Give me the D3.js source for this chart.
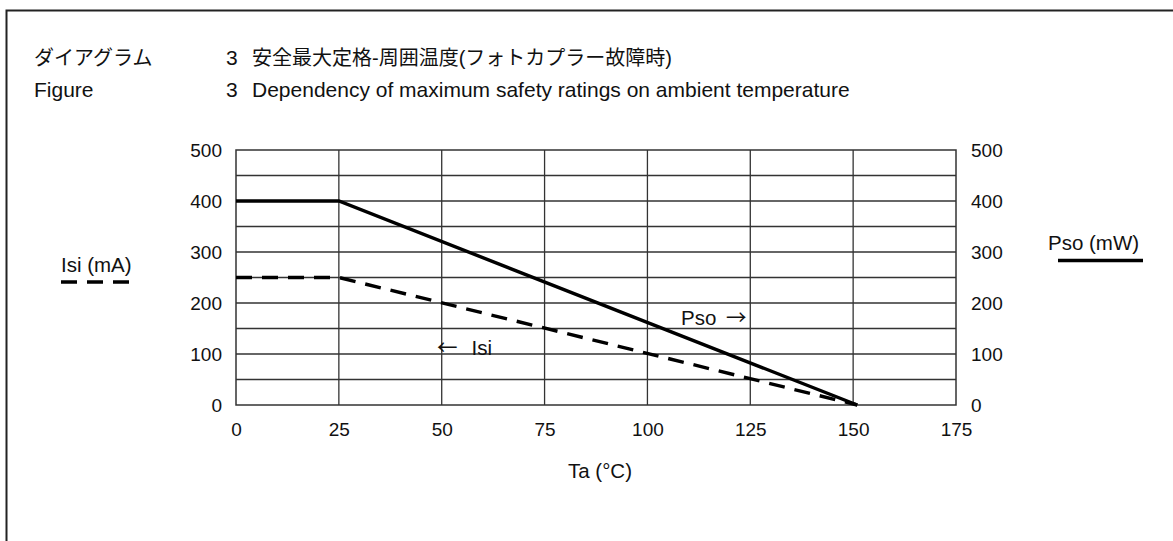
<!DOCTYPE html>
<html><head><meta charset="utf-8">
<script src="https://cdn.jsdelivr.net/npm/d3@7"></script>
<style>
body{margin:0;background:#fff;}
svg{display:block;font-family:"Liberation Sans","Noto Sans CJK JP",Arial,sans-serif;}
</style></head><body>
<svg id="c" width="1173" height="541"></svg>
<script>
const xTicks = [0,25,50,75,100,125,150,175];
const yTicks = [0,100,200,300,400,500];
const yGrid = [50,100,150,200,250,300,350,400,450];
const psoData = [[0,400],[25,400],[151,0]];
const isiData = [[0,250],[25,250],[151,0]];
const titleJa = ["ダイアグラム","3","安全最大定格-周囲温度(フォトカプラー故障時)"];
const titleEn = ["Figure","3","Dependency of maximum safety ratings on ambient temperature"];

const svg = d3.select("#c");
// outer frame
svg.append("path").attr("d","M6.5,541 V10.5 H1173").attr("fill","none").attr("stroke","#222").attr("stroke-width",2);

const x = d3.scaleLinear().domain([0,175]).range([236,956]);
const y = d3.scaleLinear().domain([0,500]).range([405,150]);

// title
const t = svg.append("g").attr("fill","#111");
[[titleJa,65,20],[titleEn,97,21]].forEach(([arr,yy,fs])=>{
  t.append("text").attr("x",34).attr("y",yy).attr("font-size",fs).text(arr[0]);
  t.append("text").attr("x",226).attr("y",yy).attr("font-size",21).text(arr[1]);
  t.append("text").attr("x",252).attr("y",yy).attr("font-size",fs).text(arr[2]);
});

// grid
const g = svg.append("g");
g.selectAll(".vg").data(xTicks.slice(1,-1)).join("line")
 .attr("x1",d=>x(d)).attr("x2",d=>x(d)).attr("y1",y(0)).attr("y2",y(500))
 .attr("stroke","#333").attr("stroke-width",1.3);
g.selectAll(".hg").data(yGrid).join("line")
 .attr("x1",x(0)).attr("x2",x(175)).attr("y1",d=>y(d)).attr("y2",d=>y(d))
 .attr("stroke","#333").attr("stroke-width",1.3);
g.append("rect").attr("x",x(0)).attr("y",y(500)).attr("width",x(175)-x(0)).attr("height",y(0)-y(500))
 .attr("fill","none").attr("stroke","#333").attr("stroke-width",1.5);

// axes
const axB = d3.axisBottom(x).tickValues(xTicks).tickSize(0).tickPadding(18);
const axL = d3.axisLeft(y).tickValues(yTicks).tickSize(0).tickPadding(14);
const axR = d3.axisRight(y).tickValues(yTicks).tickSize(0).tickPadding(15);
[[axB,`translate(0,${y(0)})`],[axL,`translate(${x(0)},0)`],[axR,`translate(${x(175)},0)`]].forEach(([a,tr])=>{
  const gg = svg.append("g").attr("transform",tr).call(a);
  gg.select(".domain").remove();
  gg.selectAll("text").attr("font-size",19).attr("fill","#111").attr("font-family","Liberation Sans, Arial, sans-serif");
});

// lines
const line = d3.line().x(d=>x(d[0])).y(d=>y(d[1]));
svg.append("path").datum(psoData).attr("d",line).attr("fill","none").attr("stroke","#000").attr("stroke-width",3.4);
svg.append("path").datum(isiData).attr("d",line).attr("fill","none").attr("stroke","#000").attr("stroke-width",3.4).attr("stroke-dasharray","16,10");

// labels
const lab = svg.append("g").attr("font-size",20.5).attr("fill","#111");
const p = lab.append("text").attr("x",681).attr("y",325);
p.append("tspan").text("Pso ");
p.append("tspan").attr("font-family","Noto Sans CJK JP").attr("dx",4).text("\u2192");
const q = lab.append("text").attr("x",437).attr("y",355);
q.append("tspan").attr("font-family","Noto Sans CJK JP").text("\u2190");
q.append("tspan").attr("dx",14).text("Isi");
lab.append("text").attr("x",600).attr("y",478).attr("text-anchor","middle").text("Ta (°C)");
lab.append("text").attr("x",61).attr("y",272).text("Isi (mA)");
lab.append("text").attr("x",1048).attr("y",250).text("Pso (mW)");
svg.append("line").attr("x1",61).attr("x2",132).attr("y1",282).attr("y2",282).attr("stroke","#000").attr("stroke-width",3.5).attr("stroke-dasharray","16,10");
svg.append("line").attr("x1",1058).attr("x2",1143).attr("y1",260.5).attr("y2",260.5).attr("stroke","#000").attr("stroke-width",3.5);
</script>
</body></html>
